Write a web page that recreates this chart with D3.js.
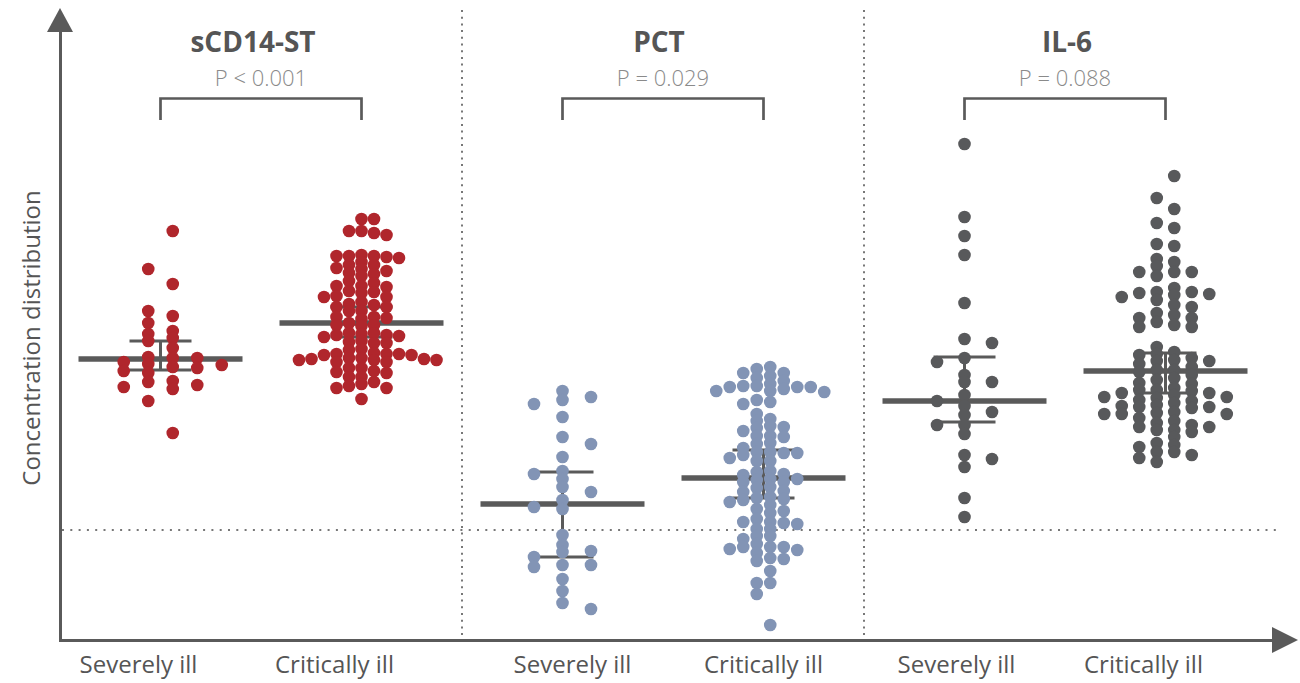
<!DOCTYPE html>
<html><head><meta charset="utf-8">
<script src="https://cdn.jsdelivr.net/npm/d3@7"></script>
<style>body{margin:0;background:#fff;} svg{display:block;font-family:"Open Sans","Noto Sans",sans-serif;}</style>
</head><body><svg id="c" width="1300" height="683"></svg>
<script>
// ---------------- DATA ----------------
const markers = ["sCD14-ST", "PCT", "IL-6"];
const pValues = ["P < 0.001", "P = 0.029", "P = 0.088"];
const groups = ["Severely ill", "Critically ill"];

const sCD14Severe = [40.9,37.1,35.6,32.9,32.4,31.7,30.9,30.2,30.6,29.9,29.2,28.3,28.2,28.2,27.8,27.6,27.2,27.5,27.3,26.7,26.9,25.9,25.1,25.8,25.3,25.5,23.9,20.7];
const sCD14Critical = [42.1,42.1,40.9,40.7,40.5,40.9,38.4,38.4,38.5,38.4,38.2,38.3,37.8,37.5,37.5,37.2,36.9,37.1,36.7,36.6,36.4,35.9,35.7,35.3,35.4,35.4,34.9,34.7,34.8,34.3,34.4,34.3,33.5,33.3,33.8,33.6,33.3,32.9,32.9,32.3,32.3,32.1,32.2,31.7,31.4,31.5,31.5,30.7,30.5,30.5,30.4,30.6,29.9,30.3,30.7,29.7,29.8,29.7,29.0,28.0,28.6,28.1,28.5,27.8,28.2,28.2,28.1,28.6,28.5,28.0,28.7,27.8,28.6,29.1,28.0,27.2,27.2,26.9,26.8,26.7,26.3,26.3,25.8,25.6,25.4,25.2,25.2,24.1];
const pctSevere = [24.0,24.3,24.9,23.6,22.3,20.3,19.6,18.3,16.9,16.1,16.6,14.8,15.3,14.0,13.1,13.3,10.5,9.5,8.8,8.9,8.3,7.5,7.3,7.5,6.1,4.9,3.7,3.1];
const pctCritical = [25.6,25.4,25.9,24.9,26.7,26.7,27.3,26.4,27.1,26.2,24.9,25.1,25.3,25.3,24.8,25.4,25.3,23.8,23.6,24.0,22.6,22.1,21.9,21.3,21.4,21.2,20.9,20.4,20.3,20.4,19.7,19.6,19.2,18.7,18.7,18.8,18.5,18.8,17.9,17.9,18.2,16.1,16.1,16.5,16.9,16.6,16.8,16.0,15.8,15.8,15.2,15.3,14.9,14.8,14.0,14.1,14.2,13.5,13.8,14.3,12.9,13.1,12.7,11.8,11.6,12.1,11.8,11.7,11.1,11.1,10.4,10.1,10.4,9.1,9.3,9.0,9.3,9.3,9.6,8.7,8.2,8.1,7.9,6.9,5.7,5.7,4.6,1.5];
const il6Severe = [49.6,42.3,40.4,38.5,33.7,30.1,29.7,28.2,27.8,26.5,25.8,25.8,23.9,24.5,23.4,22.8,22.5,21.5,21.5,20.6,18.1,18.5,17.3,14.2,12.3];
const il6Critical = [46.4,44.2,43.1,41.7,41.2,39.6,39.4,38.1,37.8,36.8,37.4,36.4,36.8,36.8,34.8,34.6,35.2,34.3,34.7,34.0,34.5,34.8,33.5,33.3,32.5,32.7,32.2,31.8,32.2,31.3,31.3,31.5,29.3,28.6,28.2,27.9,27.9,28.5,28.8,28.0,27.6,27.0,27.0,27.3,26.8,26.2,26.0,25.6,26.5,25.7,24.5,25.0,24.3,25.2,24.7,24.2,24.7,25.0,24.3,24.9,23.9,23.3,22.6,23.2,22.6,23.4,23.5,22.8,23.7,22.7,24.0,23.3,22.6,21.9,22.2,21.5,21.3,21.7,21.0,21.3,20.8,20.3,21.0,19.7,18.5,19.3,18.8,18.2,19.5,18.8,17.8];

// summary lines, order: sCD14 sev, sCD14 crit, PCT sev, PCT crit, IL-6 sev, IL-6 crit
const medians   = [28.1, 31.7, 13.6, 16.2, 23.9, 26.9];
const upperBars = [29.9, 33.3, 16.8, 19.0, 28.3, 28.7];
const lowerBars = [27.0, 30.3, 8.3, 14.2, 21.8, 24.7];
const referenceLevel = 11.0;
const yLabel = "Concentration distribution";

// ---------------- LAYOUT / STYLE ----------------
const markerColors = {"sCD14-ST": "#b0262c", "PCT": "#8294b5", "IL-6": "#58595b"};
const swarmStyle = [
  {step: 24.5, half: true}, {step: 12.5, half: false},
  {step: 28.5, half: false}, {step: 13.5, half: true},
  {step: 27.5, half: false}, {step: 17.5, half: true}
];
const labelShift = [-22, -27, 10, 0, -8, -22];
const titleShift = [-8, -4, 2];
const series = [
  {m: "sCD14-ST", g: groups[0], values: sCD14Severe},
  {m: "sCD14-ST", g: groups[1], values: sCD14Critical},
  {m: "PCT", g: groups[0], values: pctSevere},
  {m: "PCT", g: groups[1], values: pctCritical},
  {m: "IL-6", g: groups[0], values: il6Severe},
  {m: "IL-6", g: groups[1], values: il6Critical}
];

const svg = d3.select("#c");
const axisColor = "#5a5a5a";
const panel = d3.scaleBand().domain(markers).range([60, 1266]);
const grp = d3.scaleBand().domain(groups).range([0, panel.bandwidth()]);
const y = d3.scaleLinear().domain([0, 63]).range([640, 10]);
const cx = (m, g) => panel(m) + grp(g) + grp.bandwidth() / 2;

// dotted separators
svg.selectAll("line.sep").data(markers.slice(1)).join("line")
  .attr("x1", d => panel(d)).attr("x2", d => panel(d))
  .attr("y1", 10).attr("y2", 638)
  .attr("stroke", "#777").attr("stroke-width", 2).attr("stroke-dasharray", "2,4.7");
svg.append("line")
  .attr("x1", 62).attr("x2", 1282).attr("y1", y(referenceLevel)).attr("y2", y(referenceLevel))
  .attr("stroke", "#777").attr("stroke-width", 2).attr("stroke-dasharray", "2,6.3");

// axes
const yAx = svg.append("g").attr("transform", "translate(60,0)")
  .call(d3.axisLeft(d3.scaleLinear().range([640, 28])).ticks(0).tickSizeOuter(0));
yAx.select(".domain").attr("stroke", axisColor).attr("stroke-width", 3);
const xAx = svg.append("g").attr("transform", "translate(0,640)")
  .call(d3.axisBottom(d3.scaleLinear().range([58.5, 1278])).ticks(0).tickSizeOuter(0));
xAx.select(".domain").attr("stroke", axisColor).attr("stroke-width", 3);
svg.append("path").attr("d", "M60,8 L73,32 L47,32 Z").attr("fill", axisColor);
svg.append("path").attr("d", "M1298,640 L1272,627 L1272,653 Z").attr("fill", axisColor);

// y label
svg.append("text").attr("transform", "translate(40,338) rotate(-90)")
  .attr("text-anchor", "middle").attr("font-size", 24).attr("fill", "#555").text(yLabel);

// titles, p values, brackets
markers.forEach((m, i) => {
  const a = cx(m, groups[0]), b = cx(m, groups[1]);
  const mid = (a + b) / 2;
  svg.append("text").attr("x", mid + titleShift[i]).attr("y", 52).attr("text-anchor", "middle")
    .attr("font-size", 28).attr("font-weight", "bold").attr("fill", "#555").text(m);
  svg.append("text").attr("x", mid).attr("y", 86).attr("text-anchor", "middle")
    .attr("font-size", 22).attr("font-weight", 300).attr("fill", "#8a8a8a").text(pValues[i]);
  svg.append("path").attr("d", `M${a},120 V98.5 H${b} V120`)
    .attr("fill", "none").attr("stroke", axisColor).attr("stroke-width", 2.7);
});

// group labels
series.forEach((s, i) => {
  svg.append("text").attr("x", cx(s.m, s.g) + labelShift[i]).attr("y", 673).attr("text-anchor", "middle")
    .attr("font-size", 24).attr("fill", "#555").text(s.g);
});

// summary bars
series.forEach((s, i) => {
  const c = cx(s.m, s.g);
  const g = svg.append("g").attr("stroke", axisColor);
  g.append("line").attr("x1", c).attr("x2", c).attr("y1", y(upperBars[i])).attr("y2", y(lowerBars[i])).attr("stroke-width", 3);
  [upperBars[i], lowerBars[i]].forEach(v => g.append("line")
    .attr("x1", c - 31).attr("x2", c + 31).attr("y1", y(v)).attr("y2", y(v)).attr("stroke-width", 3));
  g.append("line").attr("x1", c - 82).attr("x2", c + 82).attr("y1", y(medians[i])).attr("y2", y(medians[i])).attr("stroke-width", 5.5);
});

// swarm layout
function swarm(values, step, half, D) {
  const pts = values.map(v => ({v, py: y(v)})).sort((a, b) => a.py - b.py);
  const cols = new Map();
  pts.forEach(p => {
    for (let k = 0; k < 30; k++) {
      let cands = half ? [k + 0.5, -(k + 0.5)] : (k === 0 ? [0] : [k, -k]);
      cands.sort((a, b) => (cols.get(a) || []).length - (cols.get(b) || []).length);
      let chosen = null;
      for (const c of cands) {
        const arr = cols.get(c) || [];
        if (arr.every(q => Math.abs(q - p.py) >= D)) { chosen = c; break; }
      }
      if (chosen !== null) {
        p.slot = chosen;
        if (!cols.has(chosen)) cols.set(chosen, []);
        cols.get(chosen).push(p.py);
        break;
      }
    }
  });
  return pts;
}

series.forEach((s, i) => {
  const c = cx(s.m, s.g);
  const st = swarmStyle[i];
  const pts = swarm(s.values, st.step, st.half, 7);
  svg.append("g").selectAll("circle").data(pts).join("circle")
    .attr("cx", d => c + d.slot * st.step).attr("cy", d => d.py)
    .attr("r", 6.3).attr("fill", markerColors[s.m]);
});
</script></body></html>
